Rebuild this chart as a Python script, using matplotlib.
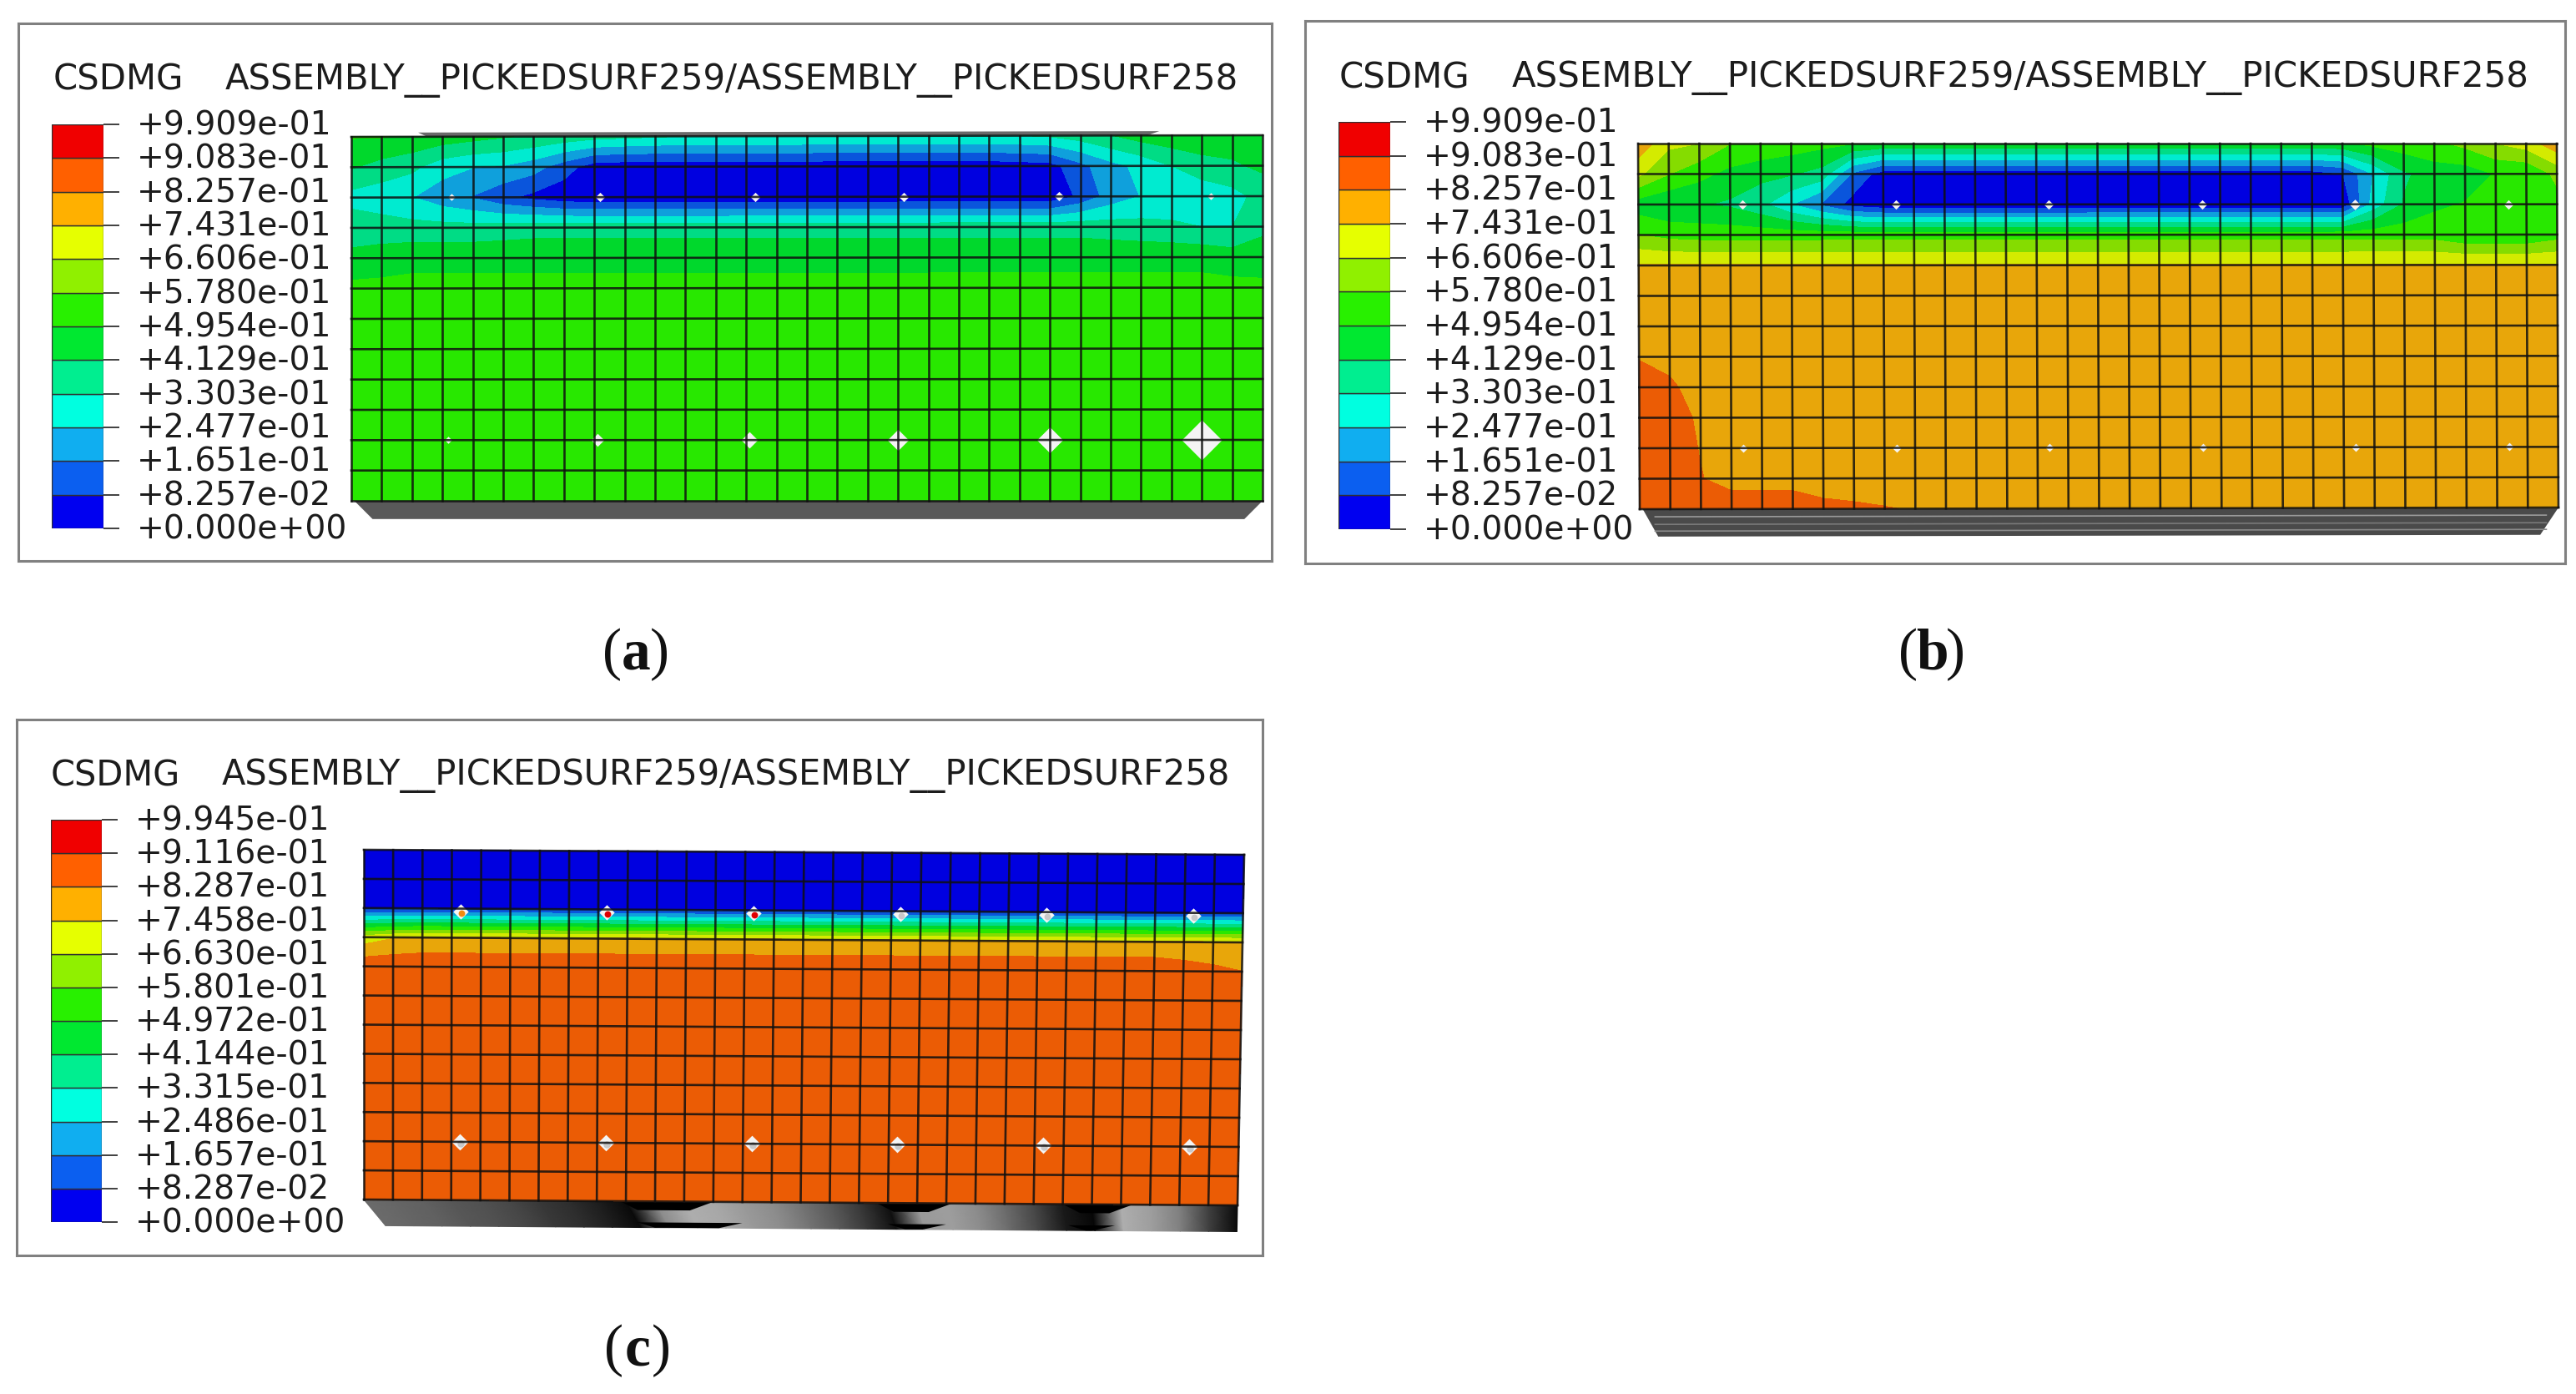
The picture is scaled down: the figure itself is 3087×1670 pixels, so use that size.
import matplotlib
matplotlib.use("Agg")
import matplotlib.pyplot as plt
from matplotlib.transforms import ScaledTranslation
import numpy as np

W, H = 3087, 1670
TITLE_VAR = "CSDMG"
TITLE_SURF = "ASSEMBLY__PICKEDSURF259/ASSEMBLY__PICKEDSURF258"

labels_ab = ["+9.909e-01", "+9.083e-01", "+8.257e-01", "+7.431e-01", "+6.606e-01", "+5.780e-01", "+4.954e-01",
             "+4.129e-01", "+3.303e-01", "+2.477e-01", "+1.651e-01", "+8.257e-02", "+0.000e+00"]
labels_c = ["+9.945e-01", "+9.116e-01", "+8.287e-01", "+7.458e-01", "+6.630e-01", "+5.801e-01", "+4.972e-01",
            "+4.144e-01", "+3.315e-01", "+2.486e-01", "+1.657e-01", "+8.287e-02", "+0.000e+00"]

band_colors = ['#0000f0', '#0b5ff0', '#10aef0', '#00ffe0', '#00ee90', '#00e830',
               '#28f000', '#90f000', '#e6ff00', '#ffb000', '#ff6000', '#f00000']
surface_colors = ['#0000e0', '#0a55dc', '#0fa0dc', '#00ebd0', '#00dc85', '#00d82c',
                  '#28e800', '#85dc00', '#d4eb00', '#e8a60a', '#eb5c05', '#dc0000']

# Damage values at mesh nodes, in percent, 13 rows of 31 nodes
field_a = [
    [50, 50, 48, 46, 44, 42, 40, 38, 36, 35, 34, 33, 33, 33, 33, 33, 33, 33, 33, 33, 33, 33, 33, 34, 37, 41, 45, 47, 47, 46, 45],
    [42, 38, 35, 28, 25, 24, 20, 12, 4, 3, 3, 3, 3, 3, 3, 3, 3, 3, 3, 3, 3, 3, 4, 5, 14, 22, 27, 33, 38, 40, 43],
    [30, 28, 25, 20, 16, 10, 6, 3] + [2] * 16 + [10, 20, 25, 26, 27, 30, 36],
    [38, 37, 36, 36, 36, 37, 38] + [38] * 17 + [38, 37, 36, 35, 33, 33, 40],
    [43, 45] + [47] * 25 + [47, 47, 45, 44],
    [52] * 31, [53] * 31, [53] * 31, [53] * 31, [53] * 31, [53] * 31, [53] * 31, [53] * 31,
]
field_b = [
    [80, 68, 66, 58, 56, 54, 52, 50] + [48] * 16 + [52, 54, 56, 60, 66, 70, 80],
    [68, 58, 52, 47, 44, 42, 38, 15] + [4] * 15 + [8, 25, 40, 45, 45, 50, 50, 60],
    [45, 42, 42, 40, 35, 25, 15, 5] + [2] * 16 + [28, 42, 48, 50, 52, 50, 55],
    [58, 55] + [54] * 25 + [50, 50, 50, 54],
    [75] * 31,
    [78] * 31,
    [78] * 31,
    [82, 80] + [78] * 29,
    [87, 84, 79] + [78] * 28,
    [88, 87, 81] + [78] * 28,
    [88, 88, 82] + [78] * 28,
    [88, 88, 83, 79, 79, 79] + [78] * 25,
    [88, 88, 88, 88, 88, 88, 85, 84, 83, 82] + [78] * 21,
]
field_c = [
    [2] * 31, [2] * 31, [7] * 31,
    [70, 74] + [76] * 29,
    [89] * 28 + [87, 85, 83],
    [86] * 31, [86] * 31, [86] * 31, [86] * 31, [86] * 31, [86] * 31, [86] * 31, [86] * 31,
]

# Fastener holes: column, row, diameter in px, colour
bolts_a = [(3.3, 2, 6), (8.2, 2, 8), (13.3, 2, 8), (18.2, 2, 8), (23.3, 2, 8), (28.3, 2, 6),
           (3.2, 10, 6), (8.1, 10, 11), (13.1, 10, 14), (18.0, 10, 18), (23.0, 10, 22), (28.0, 10, 34)]
bolts_b = [(3.4, 2, 8), (8.4, 2, 8), (13.4, 2, 8), (18.4, 2, 8), (23.4, 2, 9), (28.4, 2, 8),
           (3.4, 10, 7), (8.4, 10, 7), (13.4, 10, 7), (18.4, 10, 7), (23.4, 10, 7), (28.4, 10, 7)]
bolts_c = [(3.3, 2.1, 13, '#f08a10'), (8.3, 2.1, 13, '#e00000'), (13.3, 2.1, 13, '#e00000'),
           (18.3, 2.1, 13, '#c8c8c8'), (23.3, 2.1, 13, '#c8c8c8'), (28.3, 2.1, 13, '#c8c8c8'),
           (3.3, 10, 14, '#c8c8c8'), (8.3, 10, 14, '#c8c8c8'), (13.3, 10, 14, '#c8c8c8'),
           (18.3, 10, 14, '#c8c8c8'), (23.3, 10, 14, '#c8c8c8'), (28.3, 10, 14, '#c8c8c8')]

# Grey level of the lower side face at each column line
side_c = [.42, .40, .38, .34, .32, .28, .22, .18, .12, .04,
          .55, .68, .66, .60, .55, .45, .35, .22, .06,
          .60, .62, .55, .42, .28, .10, .03,
          .68, .62, .50, .25, .04]
# Black chevrons on that face: (start column, end column, upper row, lower row)
chevrons_c = [(8.8, 12.0, 12.0, 12.3), (9.4, 13.0, 12.72, 12.9), (17.6, 20.2, 12.0, 12.3),
              (18.0, 20.0, 12.72, 12.9), (24.0, 26.4, 12.0, 12.3), (24.2, 25.8, 12.72, 12.9)]


def rect(x0, y0, x1, y1):
    return [x0 / W, 1 - y1 / H, (x1 - x0) / W, (y1 - y0) / H]


fig = plt.figure(figsize=(W / 100, H / 100), dpi=100, facecolor='white')
TXT = '#1c1c1c'
label_shift = ScaledTranslation(0, 2.5 / 100, fig.dpi_scale_trans)


def panel(frame, bar, label_pad, title_y, title_x, labels, field, corners, bolts, fs_title):
    x0, y0, x1, y1 = frame
    ax = fig.add_axes(rect(x0, y0, x1, y1))
    ax.set_xlim(x0, x1)
    ax.set_ylim(y1, y0)
    ax.set_xticks([])
    ax.set_yticks([])
    for s in ax.spines.values():
        s.set_color('#808080')
        s.set_linewidth(2.2)

    ax.text(title_x[0], title_y, TITLE_VAR, fontsize=fs_title, color=TXT, va='center', ha='left')
    ax.text(title_x[1], title_y, TITLE_SURF, fontsize=fs_title, color=TXT, va='center', ha='left')

    # legend bar
    levels = np.array([float(t) for t in labels[::-1]])
    bx0, by0, bx1, by1 = bar
    cax = fig.add_axes(rect(bx0, by0, bx1, by1))
    cax.barh(levels[:-1], np.ones(12), height=np.diff(levels), align='edge', color=band_colors,
             edgecolor='#303030', linewidth=1.0)
    cax.set_xlim(0, 1)
    cax.set_ylim(levels[0], levels[-1])
    cax.set_xticks([])
    cax.set_yticks(levels)
    cax.set_yticklabels(labels[::-1], fontsize=28.3, color=TXT)
    cax.yaxis.tick_right()
    cax.tick_params(axis='y', length=13.5, width=1.3, color='#303030', pad=label_pad)
    for t in cax.get_yticklabels():
        t.set_transform(t.get_transform() + label_shift)
    for s in cax.spines.values():
        s.set_visible(False)

    # mesh nodes from the four corners of the deformed plate
    (tlx, tly), (trx, try_), (brx, bry), (blx, bly) = corners
    u, v = np.meshgrid(np.linspace(0, 1, 31), np.linspace(0, 1, 13))

    def mp(c, r):
        a, b = np.asarray(c) / 30.0, np.asarray(r) / 12.0
        xx = (1 - b) * ((1 - a) * tlx + a * trx) + b * ((1 - a) * blx + a * brx)
        yy = (1 - b) * ((1 - a) * tly + a * try_) + b * ((1 - a) * bly + a * bry)
        return xx, yy

    X, Y = mp(u * 30, v * 12)
    Z = np.array(field) / 100.0
    ax.contourf(X, Y, Z, levels=levels, colors=surface_colors, zorder=2)

    # holes
    for b in bolts:
        bx, by = mp(b[0], b[1])
        d = b[2] * 0.72
        ax.scatter([bx], [by], s=d * d, marker='D', color='#f4f4f4', linewidths=0, zorder=3)
        if len(b) > 3:
            ax.scatter([bx + 1], [by + 2], s=(d * .6) ** 2, marker='o', color=b[3], linewidths=0, zorder=3.1)

    ax.plot(X, Y, color='#101010', alpha=.85, lw=1.9, zorder=4)
    ax.plot(X.T, Y.T, color='#101010', alpha=.85, lw=1.9, zorder=4)
    ax.set_xlim(x0, x1)
    ax.set_ylim(y1, y0)
    return ax, mp


def face(ax, mp, cs, rs, color, z=1.5):
    xx, yy = mp(cs, rs)
    ax.fill(xx, yy, color=color, lw=0, zorder=z)


# panel (a)
axa, mpa = panel((22, 28, 1524, 672), (62, 149, 124, 633), 15, 96, (64, 270), labels_ab, field_a,
                 [(421, 164), (1513, 162), (1513, 600), (421, 600)], bolts_a, 30.1)
face(axa, mpa, [0.1, 30, 29.4, 0.7], [12, 12, 12.6, 12.6], '#595959')
face(axa, mpa, [2.2, 26.6, 26.2, 2.5], [-.14, -.14, 0, 0], '#6a6a6a')

# panel (b)
axb, mpb = panel((1564, 25, 3074, 675), (1604, 146, 1666, 634), 15, 93, (1605, 1812), labels_ab, field_b,
                 [(1963, 172), (3064, 172), (3066, 608), (1965, 610)], bolts_b, 30.2)
face(axb, mpb, [0.1, 30, 29.4, 0.6], [12, 12, 12.9, 12.9], '#4a4a4a')
for rr, cc in zip([12.25, 12.5, 12.72], ['#9a9a9a', '#7a7a7a', '#8a8a8a']):
    xl, yl = mpb([0.5, 29.6], [rr, rr])
    axb.plot(xl, yl, color=cc, lw=1.2, zorder=1.6)

# panel (c)
axc, mpc = panel((20, 862, 1513, 1504), (61, 982, 122, 1464), 15, 929, (61, 266), labels_c, field_c,
                 [(436, 1018), (1491, 1024), (1483, 1444), (436, 1437)], bolts_c, 29.9)
cols = np.arange(31.0)
xs_top, ys_top = mpc(cols, np.full(31, 12.0))
xs_bot, ys_bot = mpc(cols, np.full(31, 12.9))
xs_bot = np.linspace(xs_bot[0] + 26, xs_bot[-1], 31)
axc.pcolormesh(np.array([xs_top, xs_bot]), np.array([ys_top, ys_bot]), np.array([side_c, side_c]),
               cmap='gray', vmin=0, vmax=1, zorder=1.5, shading='gouraud')
for c0, c1, r0, r1 in chevrons_c:
    face(axc, mpc, [c0, c1, c1 - .8, c0 + .6], [r0, r0, r1, r1], '#000000', 1.7)
axc.set_xlim(20, 1513)
axc.set_ylim(1504, 862)

# sub-figure labels
sub = [('a', 762, 784), ('b', 2315, 784), ('c', 764, 1618)]
for ch, cx, cy in sub:
    fig.text((cx - 40) / W, 1 - cy / H, '(', family='Liberation Serif', fontsize=50, va='center', ha='left', color='#111111')
    fig.text(cx / W, 1 - cy / H, ch, family='Liberation Serif', fontsize=50, weight='bold', va='center', ha='center', color='#111111')
    fig.text((cx + 40) / W, 1 - cy / H, ')', family='Liberation Serif', fontsize=50, va='center', ha='right', color='#111111')

fig.savefig('out.png', dpi=100, facecolor='white')
